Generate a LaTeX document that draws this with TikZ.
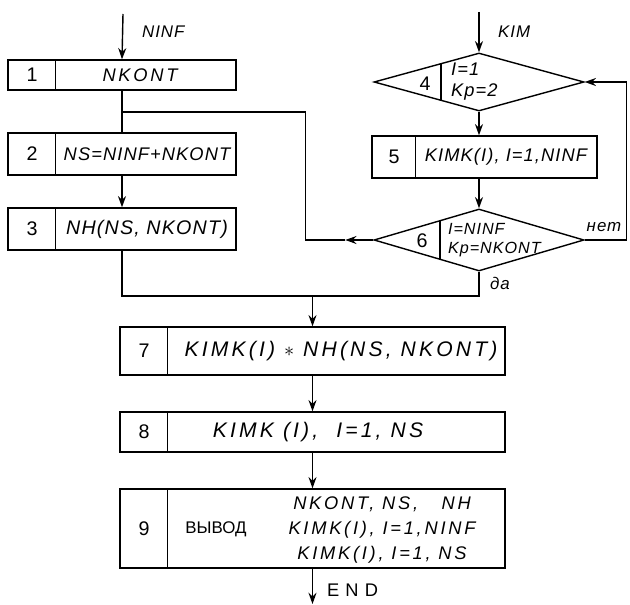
\documentclass[tikz,border=0pt]{standalone}
\usepackage{fontspec}
\setmainfont{Liberation Sans}
\newfontfamily\handfont{Liberation Sans}[LetterSpace=6]
\newfontfamily\widefont{Liberation Sans}[LetterSpace=15]
\usetikzlibrary{shapes.geometric, arrows.meta, positioning, calc}

\begin{document}
\begin{tikzpicture}[
    x=0.025cm, y=-0.025cm,
    line width=1pt,
    block/.style={rectangle, draw, inner sep=0pt, minimum width=5.7cm, minimum height=1.05cm},
    wide/.style={block, minimum width=9.625cm},
    cond/.style={diamond, draw, inner sep=0pt, minimum width=5.25cm, minimum height=1.45cm},
    num/.style={font=\fontsize{14}{16}\selectfont},
    expr/.style={font=\handfont\itshape\fontsize{13}{15}\selectfont, inner sep=1pt},
    wexpr/.style={font=\widefont\itshape\fontsize{15}{17}\selectfont, inner sep=1pt},
    cexpr/.style={font=\handfont\itshape\fontsize{11.5}{14}\selectfont, align=left, inner sep=1pt},
    lbl/.style={font=\handfont\itshape\fontsize{12}{14}\selectfont, inner sep=1pt},
    arrow/.style={-{Stealth[length=2.8mm, width=2mm]}}
]
\useasboundingbox (0,0) rectangle (630,604);

% left column
\node[block, minimum height=0.75cm] (b1) at (122,75) {};
\node[block] (b2) at (122,154) {};
\node[block] (b3) at (122,229) {};
\node[num] (n1) at (32,75) {1};
\node[wexpr, font=\widefont\itshape\fontsize{13}{15}\selectfont] (t1) at (140,75) {NKONT};
\node[num] (n2) at (32,154) {2};
\node[expr] (t2) at (147,154) {NS=NINF+NKONT};
\node[num] (n3) at (32,229) {3};
\node[expr, font=\handfont\itshape\fontsize{14}{16}\selectfont] (t3) at (147,229) {NH(NS, NKONT)};

% right column
\node[cond, minimum height=1.45cm] (d4) at (479,82) {};
\node[block, minimum width=5.625cm] (b5) at (484.5,157) {};
\node[cond, minimum height=1.55cm] (d6) at (479,240) {};
\node[num] (n4) at (425,84) {4};
\node[cexpr, anchor=west, font=\handfont\itshape\fontsize{13}{15}\selectfont] (t4) at (449,82) {I=1\\Kp=2};
\node[num] (n5) at (394,157) {5};
\node[expr] (t5) at (506,157) {KIMK(I), I=1,NINF};
\node[num] (n6) at (422,241) {6};
\node[cexpr, anchor=west] (t6) at (446,240) {I=NINF\\Kp=NKONT};

% bottom column
\node[wide, minimum height=1.2cm] (b7) at (312.5,351) {};
\node[wide, minimum height=1cm] (b8) at (312.5,432) {};
\node[wide, minimum height=1.975cm] (b9) at (312.5,528.5) {};
\node[num] (n7) at (144,351) {7};
\node[wexpr] (t7) at (341,351) {KIMK(I) $\ast$ NH(NS, NKONT)};
\node[num] (n8) at (144,432) {8};
\node[wexpr] (t8) at (318,432) {KIMK (I), \ I=1, NS};
\node[num] (n9) at (144,529) {9};
\node[font=\fontsize{12}{14}\selectfont] (out) at (216,529) {ВЫВОД};
\node[wexpr, align=center, font=\widefont\itshape\fontsize{13}{18}\selectfont] (t9) at (382,530) {NKONT, NS, \ \ NH\\KIMK(I), I=1,NINF\\KIMK(I), I=1, NS};

% dividers
\foreach \b in {b1,b2,b3,b7,b8,b9}
  \draw ([xshift=1.2cm]\b.north west) -- ([xshift=1.2cm]\b.south west);
\draw ([xshift=1.1cm]b5.north west) -- ([xshift=1.1cm]b5.south west);
\draw ($(d4.center)+(-38,-18.5)$) -- ($(d4.center)+(-38,18.5)$);
\draw ($(d6.center)+(-39,-19.8)$) -- ($(d6.center)+(-39,19.8)$);

% connection points
\coordinate (inA) at (123,14);
\coordinate (inB) at (479,12);
\coordinate (j1) at (123,112);
\coordinate (j2) at (312.5,296);
\coordinate (outE) at (312.5,604);

% connectors
\draw[arrow] (inA) -- (b1.north);
\node[lbl, anchor=west] (ninf) at (140,32) {NINF};
\draw (b1.south) -- (b2.north);
\draw[arrow] (b2) -- (b3);
\draw (b3.south) |- (j2);
\draw[arrow] (inB) -- (d4.north);
\node[lbl, anchor=west] (kim) at (496,32) {KIM};
\draw[arrow] (d4.south) -- (d4.south |- b5.north);
\draw[arrow] (d6.north |- b5.south) -- (d6.north);
\draw[arrow] (d6.west) -- ++(-28,0) coordinate (r1);
\draw (r1) -- ++(-40,0) |- (j1);
\draw (d6.east) -- ++(42,0) coordinate (r2) |- ++(0,-158) coordinate (r3);
\draw[arrow] (r3) -- (d4.east);
\node[lbl, anchor=south] (net) at (604,234) {нет};
\draw (d6.south) |- (j2);
\node[lbl, anchor=west] (da) at (488,283) {да};
\draw[arrow] (j2) -- (b7);
\draw[arrow] (b7) -- (b8);
\draw[arrow] (b8) -- (b9);
\draw[arrow] (b9) -- (outE);
\node[lbl, anchor=west, font=\handfont\fontsize{13}{15}\selectfont] (end) at (325,590) {E N D};
\end{tikzpicture}
\end{document}
